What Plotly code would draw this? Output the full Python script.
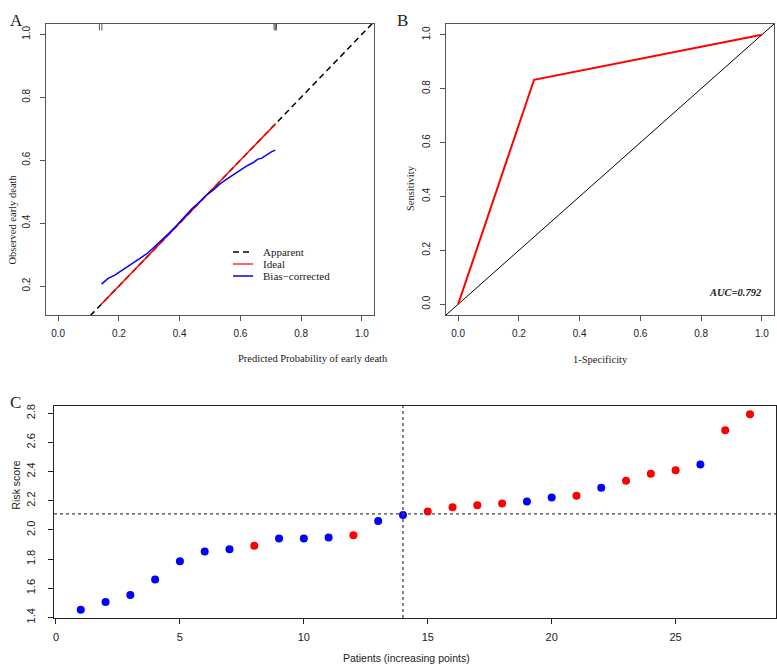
import plotly.graph_objects as go

# ---- Panel A: calibration curve ----
ideal_x = [0.142, 0.716]
bias_x = [0.143, 0.1645, 0.1865, 0.2086, 0.2303, 0.2523, 0.2743, 0.2961, 0.318, 0.340,
          0.362, 0.384, 0.4145, 0.4388, 0.466, 0.488, 0.510, 0.532, 0.554, 0.5757,
          0.5977, 0.6197, 0.6414, 0.6579, 0.669, 0.6855, 0.702, 0.715]
bias_y = [0.2063, 0.2244, 0.2349, 0.2486, 0.2613, 0.2763, 0.2912, 0.3058, 0.3249, 0.346,
          0.365, 0.3865, 0.4183, 0.4437, 0.4679, 0.4892, 0.5051, 0.5242, 0.539, 0.5533,
          0.5664, 0.5814, 0.5919, 0.6036, 0.6058, 0.6163, 0.6268, 0.6322]
rug_x = [0.136, 0.144, 0.711, 0.715, 0.719]
abline = [-0.1, 1.1]
legend_names = ["Apparent", "Ideal", "Bias\u2212corrected"]

# ---- Panel B: ROC ----
roc_fpr = [0.0, 0.25, 1.0]
roc_tpr = [0.0, 0.833, 1.0]
auc_text = "AUC=0.792"

# ---- Panel C: risk score ----
patients = list(range(1, 29))
risk = [1.453, 1.506, 1.553, 1.660, 1.786, 1.852, 1.868, 1.891, 1.941, 1.941,
        1.948, 1.964, 2.062, 2.103, 2.126, 2.156, 2.170, 2.181, 2.195, 2.222,
        2.234, 2.290, 2.338, 2.386, 2.410, 2.448, 2.684, 2.793]
status = ["b", "b", "b", "b", "b", "b", "b", "r", "b", "b",
          "b", "r", "b", "b", "r", "r", "r", "r", "b", "b",
          "r", "b", "r", "r", "r", "b", "r", "r"]
cutoff_risk = 2.110
cutoff_patient = 14

SERIF = "Liberation Serif"
SANS = "Liberation Sans"
W, H = 777, 672
DASH = "6px,4px"

fig = go.Figure()

# calibration: apparent (dashed abline), ideal, bias-corrected
fig.add_trace(go.Scatter(x=abline, y=abline, mode="lines", name=legend_names[0],
                         line=dict(color="black", width=1.5, dash=DASH),
                         xaxis="x", yaxis="y"))
fig.add_trace(go.Scatter(x=ideal_x, y=ideal_x, mode="lines", name=legend_names[1],
                         line=dict(color="red", width=1.5), xaxis="x", yaxis="y"))
fig.add_trace(go.Scatter(x=bias_x, y=bias_y, mode="lines", name=legend_names[2],
                         line=dict(color="blue", width=1.5), xaxis="x", yaxis="y"))

# ROC
fig.add_trace(go.Scatter(x=abline, y=abline, mode="lines",
                         line=dict(color="black", width=1), xaxis="x2", yaxis="y2"))
fig.add_trace(go.Scatter(x=roc_fpr, y=roc_tpr, mode="lines",
                         line=dict(color="red", width=2), xaxis="x2", yaxis="y2"))

# risk score
cols = ["#0000FF" if s == "b" else "#FF0000" for s in status]
fig.add_trace(go.Scatter(x=patients, y=risk, mode="markers",
                         marker=dict(color=cols, size=8, line=dict(width=0)),
                         xaxis="x3", yaxis="y3"))

# rug marks at the top of panel A
for rx in rug_x:
    fig.add_shape(type="line", xref="x", yref="y domain", x0=rx, x1=rx, y0=0.978, y1=1.0,
                  line=dict(color="#555", width=1))

fig.add_shape(type="line", xref="x3", yref="y3 domain", x0=cutoff_patient, x1=cutoff_patient,
              y0=0, y1=1, line=dict(color="#444", width=1.3, dash="dot"))
fig.add_shape(type="line", xref="x3 domain", yref="y3", x0=0, x1=1, y0=cutoff_risk,
              y1=cutoff_risk, line=dict(color="#444", width=1.3, dash="dot"))

# hand-drawn legend for panel A (R style, tight rows)
leg_styles = [dict(color="black", width=1.5, dash=DASH),
              dict(color="red", width=1.2),
              dict(color="blue", width=1.5)]
for i, (nm, st) in enumerate(zip(legend_names, leg_styles)):
    yy = 1 - (252 + 12 * i) / H
    fig.add_shape(type="line", xref="paper", yref="paper", x0=233 / W, x1=253 / W,
                  y0=yy, y1=yy, line=st)
    fig.add_annotation(text=nm, x=261 / W, y=yy, xref="paper", yref="paper",
                       xanchor="left", showarrow=False,
                       font=dict(family=SERIF, size=11, color="#222"))


def ax(dom, rng, tickvals, fmt, anchor, line_col="#555", angle=None, standoff=0, fsize=10):
    d = dict(domain=dom, range=rng, tickvals=tickvals, tickformat=fmt, anchor=anchor,
             showgrid=False, zeroline=False, showline=True, linecolor=line_col,
             linewidth=1, mirror=True, ticks="outside", ticklen=5, tickcolor=line_col,
             automargin=False, ticklabelstandoff=standoff,
             tickfont=dict(family=SANS, size=fsize, color="#222"))
    if angle is not None:
        d["tickangle"] = angle
    return d


t = [0, 0.2, 0.4, 0.6, 0.8, 1.0]
fig.update_layout(
    width=W, height=H, margin=dict(l=0, r=0, t=0, b=0, autoexpand=False),
    paper_bgcolor="white", plot_bgcolor="white", showlegend=False,
    xaxis=ax([46 / W, 374 / W], [-0.04, 1.04], t, ".1f", "y", standoff=4),
    yaxis=ax([1 - 315 / H, 1 - 24 / H], [0.108, 1.033], t[1:], ".1f", "x", angle=-90,
             standoff=6),
    xaxis2=ax([446 / W, 774 / W], [-0.04, 1.04], t, ".1f", "y2", standoff=4),
    yaxis2=ax([1 - 315 / H, 1 - 24 / H], [-0.04, 1.04], t, ".1f", "x2", angle=-90,
              standoff=6),
    xaxis3=ax([54 / W, 776 / W], [-0.08, 29.05], [0, 5, 10, 15, 20, 25], "d", "y3",
              line_col="#222", standoff=4, fsize=11),
    yaxis3=ax([1 - 618 / H, 1 - 406 / H], [1.396, 2.85],
              [1.4, 1.6, 1.8, 2.0, 2.2, 2.4, 2.6, 2.8], ".1f", "x3", line_col="#222",
              angle=-90, standoff=9, fsize=11),
)


def note(text, x, y, size, family, angle=0, **kw):
    fig.add_annotation(text=text, x=x / W, y=1 - y / H, xref="paper", yref="paper",
                       showarrow=False, textangle=angle,
                       font=dict(family=family, size=size, color="#222"), **kw)


note("A", 8, 9, 17, SERIF)
note("B", 402, 9, 17, SERIF)
note("C", 8, 402, 17, SERIF)
note("Predicted Probability of early death", 236, 358, 10.5, SERIF)
note("Observed early death", 5, 173, 10.5, SERIF, angle=-90)
note("1-Specificity", 630, 359, 10.5, SERIF)
note("Sensitivity", 410, 163, 10.5, SERIF, angle=-90)
note("Patients (increasing points)", 406, 666, 10.5, SANS)
note("Risk score", 7, 512, 10.5, SANS, angle=-90)
fig.add_annotation(text="<b><i>" + auc_text + "</i></b>", x=0.912, y=0.045, xref="x2", yref="y2",
                   showarrow=False, font=dict(family=SERIF, size=10.5, color="#222"))

# the page's default body margin would push the 777x672 figure off by 8px
fig.write_html("out.html", config={"displayModeBar": False},
               post_script="document.body.style.margin='0';")
